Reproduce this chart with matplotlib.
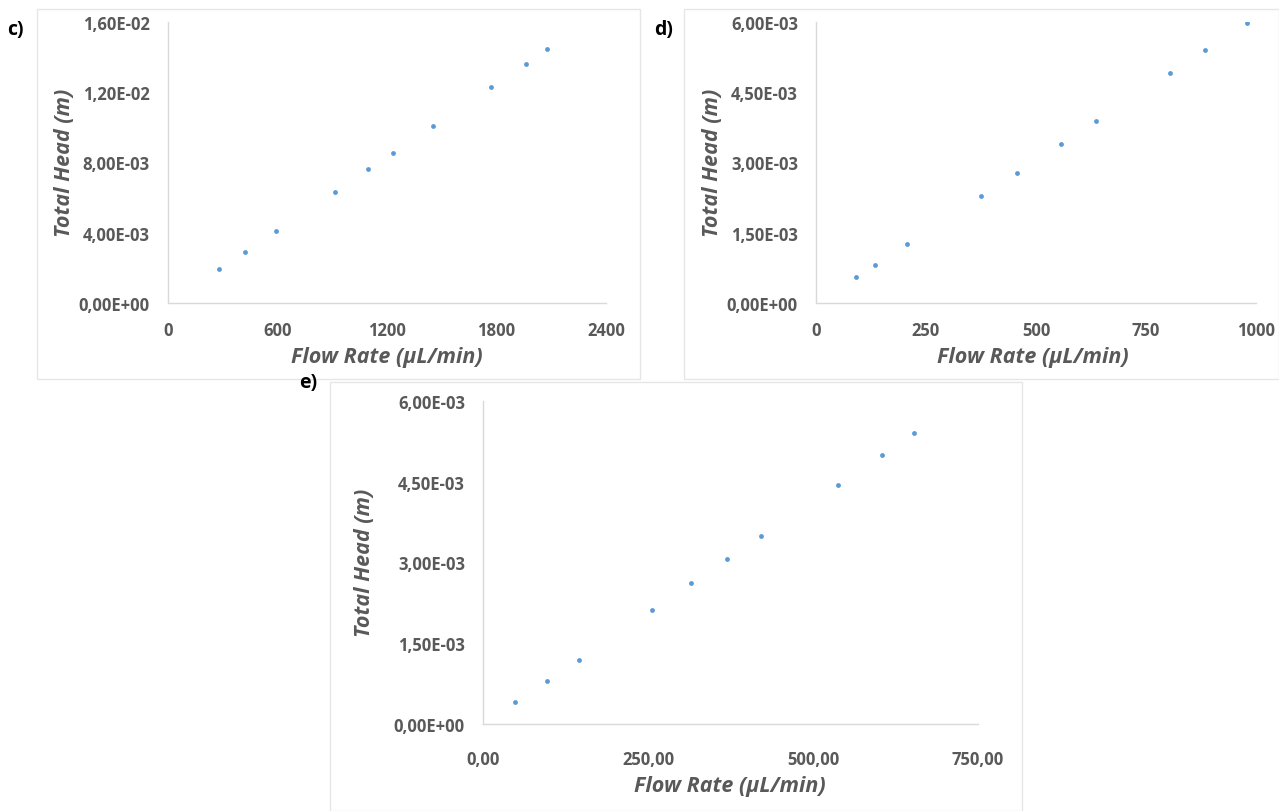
import numpy as np
import matplotlib
matplotlib.use("Agg")
import matplotlib.pyplot as plt
from matplotlib.ticker import FuncFormatter
from matplotlib.patches import Rectangle

plt.rcParams['font.family'] = ['Open Sans', 'DejaVu Sans']

# Data (flow rate in uL/min, total head in m)
flow_c = [279, 422, 590, 914, 1097, 1231, 1453, 1770, 1962, 2078]
head_c = [0.00193, 0.00291, 0.00409, 0.00633, 0.00763, 0.00856, 0.01009, 0.01229, 0.01363, 0.01449]

flow_d = [90, 134, 207, 374, 457, 556, 637, 804, 884, 979]
head_d = [0.00055, 0.000814, 0.001257, 0.002279, 0.002779, 0.003393, 0.003893, 0.004914, 0.005407, 0.00598]

flow_e = [48.5, 96.4, 144.9, 255.8, 315.4, 369.5, 421.4, 537.2, 605.1, 653.6]
head_e = [0.000403, 0.000807, 0.001198, 0.002116, 0.002618, 0.003065, 0.003493, 0.004443, 0.005001, 0.005404]

xticks_c = [0, 600, 1200, 1800, 2400]
yticks_c = [0, 0.004, 0.008, 0.012, 0.016]
xticks_d = [0, 250, 500, 750, 1000]
yticks_d = [0, 0.0015, 0.003, 0.0045, 0.006]
xticks_e = [0, 250, 500, 750]
yticks_e = [0, 0.0015, 0.003, 0.0045, 0.006]

W, H = 1279, 812
fig = plt.figure(figsize=(W / 100, H / 100), dpi=100)

grey = "#595959"
dot = "#5b9bd5"
spine = "#d9d9d9"


def px_axes(x0, x1, ytop, ybot):
    return fig.add_axes([x0 / W, 1 - ybot / H, (x1 - x0) / W, (ybot - ytop) / H])


def sci(v, pos):
    return f"{v:.2E}".replace(".", ",")


def style(ax, xt, yt, xfmt, xpad=13):
    for s in ["top", "right"]:
        ax.spines[s].set_visible(False)
    for s in ["left", "bottom"]:
        ax.spines[s].set_color(spine)
        ax.spines[s].set_linewidth(1)
    ax.set_xticks(xt)
    ax.set_yticks(yt)
    ax.set_xlim(xt[0], xt[-1])
    ax.set_ylim(yt[0], yt[-1])
    ax.tick_params(length=0, labelsize=12, labelcolor=grey)
    ax.tick_params(axis="y", pad=13)
    ax.tick_params(axis="x", pad=xpad)
    for lab in ax.get_xticklabels() + ax.get_yticklabels():
        lab.set_fontweight("bold")
    ax.yaxis.set_major_formatter(FuncFormatter(sci))
    ax.xaxis.set_major_formatter(FuncFormatter(xfmt))
    ax.patch.set_alpha(0)


def ftext(x, y, s, **kw):
    fig.text(x / W, 1 - y / H, s, **kw)


# frames round each panel
for (x0, y0, x1, y1) in [(37, 10, 640, 380), (684, 10, 1279, 380), (330, 383, 1022, 812)]:
    fig.patches.append(Rectangle((x0 / W, 1 - y1 / H), (x1 - x0) / W, (y1 - y0) / H,
                                 transform=fig.transFigure, fill=False,
                                 edgecolor="#e6e6e6", linewidth=1))

lab_kw = dict(fontsize=15.5, fontweight="bold", fontstyle="italic", color=grey,
              ha="center", va="center")
pan_kw = dict(fontsize=14, fontweight="bold", color="black", ha="left", va="center")

# panel c
ax = px_axes(168, 606, 23, 304)
ax.scatter(flow_c, head_c, s=12, color=dot, linewidths=0)
style(ax, xticks_c, yticks_c, lambda v, p: f"{v:.0f}")
ftext(65, 163, "Total Head (m)", rotation=90, **lab_kw)
ftext(387, 358, "Flow Rate (µL/min)", **lab_kw)
ftext(7, 30, "c)", **pan_kw)

# panel d
ax = px_axes(816, 1256, 23, 304)
ax.scatter(flow_d, head_d, s=12, color=dot, linewidths=0)
style(ax, xticks_d, yticks_d, lambda v, p: f"{v:.0f}")
ftext(712, 163, "Total Head (m)", rotation=90, **lab_kw)
ftext(1033, 358, "Flow Rate (µL/min)", **lab_kw)
ftext(654, 30, "d)", **pan_kw)

# panel e
ax = px_axes(483, 978, 402, 725)
ax.scatter(flow_e, head_e, s=12, color=dot, linewidths=0)
style(ax, xticks_e, yticks_e, lambda v, p: f"{v:.2f}".replace(".", ","), xpad=19)
ftext(364, 563, "Total Head (m)", rotation=90, **lab_kw)
ftext(730, 787, "Flow Rate (µL/min)", **lab_kw)
ftext(299, 383, "e)", **pan_kw)

fig.savefig("out.png", dpi=100)
